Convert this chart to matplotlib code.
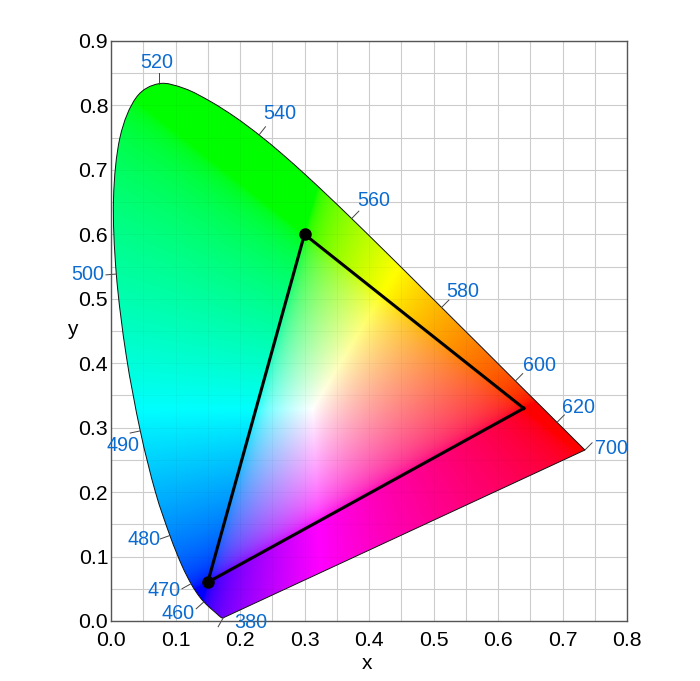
import numpy as np
import matplotlib
matplotlib.use("Agg")
import matplotlib.pyplot as plt
from matplotlib.patches import PathPatch
from matplotlib.path import Path
from matplotlib.ticker import FormatStrFormatter

plt.rcParams["font.family"] = ["Liberation Sans", "DejaVu Sans"]

# CIE 1931 spectral locus, every 5 nm from 380 to 700
wavelengths = list(range(380, 705, 5))
locus_x = [.1741, .1740, .1738, .1736, .1733, .1730, .1726, .1721, .1714, .1703,
           .1689, .1669, .1644, .1611, .1566, .1510, .1440, .1355, .1241, .1096,
           .0913, .0687, .0454, .0235, .0082, .0039, .0139, .0389, .0743, .1142,
           .1547, .1929, .2296, .2658, .3016, .3373, .3731, .4087, .4441, .4788,
           .5125, .5448, .5752, .6029, .6270, .6482, .6658, .6801, .6915, .7006,
           .7079, .7140, .7190, .7230, .7260, .7283, .7300, .7311, .7320, .7327,
           .7334, .7340, .7344, .7346, .7347]
locus_y = [.0050, .0050, .0049, .0049, .0048, .0048, .0048, .0048, .0051, .0058,
           .0069, .0086, .0109, .0138, .0177, .0227, .0297, .0399, .0578, .0868,
           .1327, .2007, .2950, .4127, .5384, .6548, .7502, .8120, .8338, .8262,
           .8059, .7816, .7543, .7243, .6923, .6589, .6245, .5896, .5547, .5202,
           .4866, .4544, .4242, .3965, .3725, .3514, .3340, .3197, .3083, .2993,
           .2920, .2859, .2809, .2770, .2740, .2717, .2700, .2689, .2680, .2673,
           .2666, .2660, .2656, .2654, .2653]

# labelled wavelengths and where their text sits
label_nm = [380, 460, 470, 480, 490, 500, 520, 540, 560, 580, 600, 620, 700]
label_x = [.217, .104, .082, .052, .019, -.036, .071, .262, .408, .545, .664, .725, .776]
label_y = [-.003, .012, .048, .126, .272, .537, .866, .787, .653, .512, .397, .332, .267]

# sRGB primaries
tri_x = [.64, .30, .15]
tri_y = [.33, .60, .06]

xticks = [0.0, 0.1, 0.2, 0.3, 0.4, 0.5, 0.6, 0.7, 0.8]
yticks = [0.0, 0.1, 0.2, 0.3, 0.4, 0.5, 0.6, 0.7, 0.8, 0.9]


def locus_path(xs, ys):
    # smooth bezier through the locus points, straight purple line back
    pts = np.column_stack([xs, ys])
    verts = [pts[0]]
    codes = [Path.MOVETO]
    for i in range(len(pts) - 1):
        p0 = pts[max(i - 1, 0)]
        p1 = pts[i]
        p2 = pts[i + 1]
        p3 = pts[min(i + 2, len(pts) - 1)]
        verts += [p1 + (p2 - p0) / 6, p2 - (p3 - p1) / 6, p2]
        codes += [Path.CURVE4] * 3
    verts += [pts[0], pts[0]]
    codes += [Path.LINETO, Path.CLOSEPOLY]
    return Path(verts, codes)


W, H = 700, 681
fig = plt.figure(figsize=(W / 100, H / 100), dpi=100)
ax = fig.add_axes([111 / W, 1 - 621 / H, (627 - 111) / W, (621 - 41) / H])

# colour field: xy to linear sRGB, scaled to full brightness
gx, gy = np.meshgrid(np.linspace(0, 0.8, 800), np.linspace(0, 0.9, 900))
gy_safe = np.maximum(gy, 1e-4)
X = gx / gy_safe
Z = (1 - gx - gy) / gy_safe
r = 3.2406 * X - 1.5372 - 0.4986 * Z
g = -0.9689 * X + 1.8758 + 0.0415 * Z
b = 0.0557 * X - 0.2040 + 1.0570 * Z
rgb = np.clip(np.dstack([r, g, b]), 0, None)
rgb = rgb / np.maximum(rgb.max(axis=2, keepdims=True), 1e-6)
rgb = np.where(rgb <= 0.0031308, 12.92 * rgb, 1.055 * rgb ** (1 / 2.4) - 0.055)

outline = PathPatch(locus_path(locus_x, locus_y), fill=False,
                    edgecolor="#111111", linewidth=0.7, zorder=3)
ax.add_patch(outline)
im = ax.imshow(rgb, origin="lower", extent=[0, 0.8, 0, 0.9], aspect="auto",
               interpolation="bilinear", zorder=2)
im.set_clip_path(outline)

# grid under the field, and a faint copy showing through it
for v in np.arange(0, 0.95, 0.05):
    ax.axhline(v, color="#cccccc", lw=0.8, zorder=1)
    ax.axvline(v, color="#cccccc", lw=0.8, zorder=1)
    for line in (ax.axhline(v, color="black", alpha=0.03, lw=0.8, zorder=2.5),
                 ax.axvline(v, color="black", alpha=0.03, lw=0.8, zorder=2.5)):
        line.set_clip_path(outline)

# short ticks on the locus next to each wavelength label
for nm in label_nm:
    i = wavelengths.index(nm)
    if nm == 380:
        nx, ny = -0.5, -0.87
    elif nm == 700:
        nx, ny = 0.7, 0.7
    elif nm == 520:
        nx, ny = 0.0, 1.0
    else:
        tx = locus_x[i + 1] - locus_x[i - 1]
        ty = locus_y[i + 1] - locus_y[i - 1]
        n = np.hypot(tx, ty)
        nx, ny = -ty / n, tx / n
    ax.plot([locus_x[i], locus_x[i] + 0.016 * nx], [locus_y[i], locus_y[i] + 0.016 * ny],
            color="#444444", lw=0.7, zorder=3, clip_on=False)

for nm, lx, ly in zip(label_nm, label_x, label_y):
    ax.text(lx, ly, str(nm), color="#0b6bd0", fontsize=14.2, ha="center", va="center", zorder=6)

# triangle
ax.plot(tri_x + tri_x[:1], tri_y + tri_y[:1], color="black", lw=2.2, zorder=4, solid_joinstyle="miter")
ax.plot(tri_x[1:], tri_y[1:], "o", color="black", ms=8, zorder=5)

ax.set_xlim(0, 0.8)
ax.set_ylim(0, 0.9)
ax.set_xticks(xticks)
ax.set_yticks(yticks)
ax.tick_params(length=0, labelsize=15.3, colors="black")
ax.tick_params(axis="x", pad=7)
ax.tick_params(axis="y", pad=2)
ax.xaxis.set_major_formatter(FormatStrFormatter("%.1f"))
ax.yaxis.set_major_formatter(FormatStrFormatter("%.1f"))
ax.set_xlabel("x", fontsize=15, va="center")
ax.set_ylabel("y", fontsize=15, rotation=0, va="center", ha="center")
ax.xaxis.set_label_coords(0.496, -0.074)
ax.yaxis.set_label_coords(-0.0756, 0.503)
for s in ax.spines.values():
    s.set_color("#555555")
    s.set_linewidth(1)
    s.set_zorder(5)

fig.savefig("out.png", dpi=100)
